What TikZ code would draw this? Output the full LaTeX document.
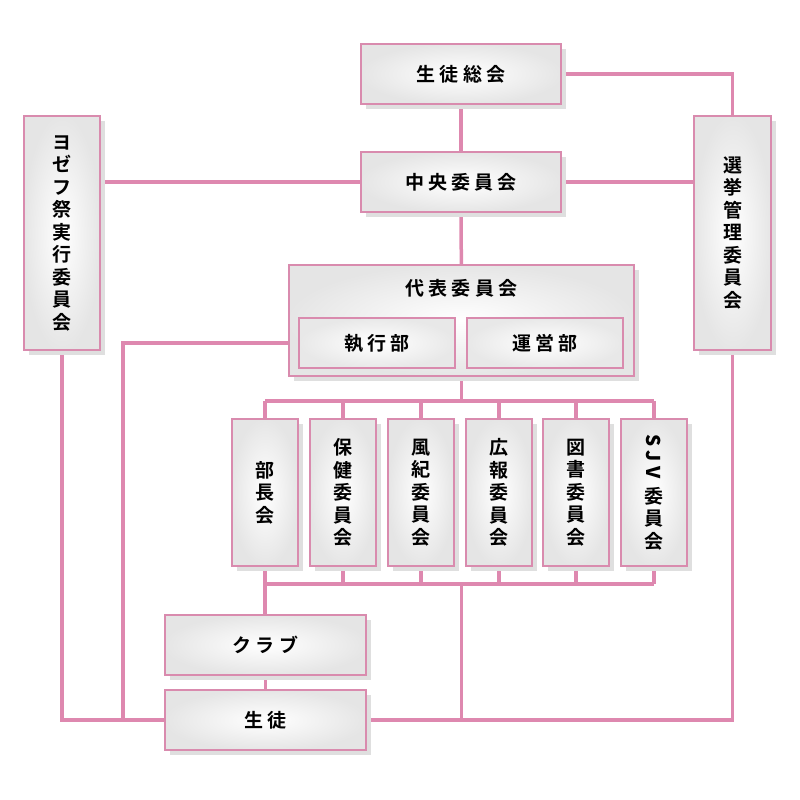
\documentclass[tikz,border=0pt]{standalone}
\usepackage{fontspec}
\setmainfont{Noto Sans CJK JP}[BoldFont={Noto Sans CJK JP Bold}]
\newfontfamily\jptrack{Noto Sans CJK JP Bold}[LetterSpace=22]
\usetikzlibrary{shadows,backgrounds}
\definecolor{pinkline}{HTML}{DE88AF}
\definecolor{pinkedge}{HTML}{D98BAE}
\begin{document}
\begin{tikzpicture}[x=1pt, y=-1pt]
  \useasboundingbox (0,0) rectangle (800,800);

  \tikzstyle{box}=[draw=pinkedge, line width=1.5pt, shading=radial, inner color=white, outer color=gray!20,
    drop shadow={shadow xshift=5pt, shadow yshift=-5pt, fill=gray!25, opacity=1}, inner sep=0pt]
  \tikzstyle{inbox}=[draw=pinkedge, line width=1.5pt, shading=radial, inner color=white, outer color=gray!18, inner sep=0pt]
  \tikzstyle{wide}=[minimum width=200pt, minimum height=60pt, font=\fontsize{19}{22}\jptrack]
  \tikzstyle{tall}=[minimum width=66pt, minimum height=147pt, align=center, font=\fontsize{19}{22.5}\bfseries]
  \tikzstyle{link}=[draw=pinkline, line width=3.5pt]

  \node[box, wide] (sokai) at (461,74) {生徒総会};
  \node[box, wide] (chuo) at (461,182) {中央委員会};
  \node[box, minimum width=345pt, minimum height=111pt,
    label={[anchor=north, yshift=-12pt, font=\fontsize{19}{22}\jptrack]90:代表委員会}] (daihyo) at (461.5,320.5) {};
  \node[inbox, minimum width=156pt, minimum height=50pt, font=\fontsize{19}{22}\jptrack] (shikko) at (377,343) {執行部};
  \node[inbox, minimum width=156pt, minimum height=50pt, font=\fontsize{19}{22}\jptrack] (unei) at (545,343) {運営部};

  \node[box, tall, minimum width=76pt, minimum height=234pt] (yozefu) at (62,233) {ヨ\\ゼ\\フ\\祭\\実\\行\\委\\員\\会};
  \node[box, tall, minimum width=77pt, minimum height=234pt] (senkyo) at (732.5,233) {選\\挙\\管\\理\\委\\員\\会};

  \node[box, tall] (bucho) at (265,492.5) {部\\長\\会};
  \node[box, tall] (hoken) at (343,492.5) {保\\健\\委\\員\\会};
  \node[box, tall] (fuki) at (421,492.5) {風\\紀\\委\\員\\会};
  \node[box, tall] (koho) at (499,492.5) {広\\報\\委\\員\\会};
  \node[box, tall] (tosho) at (576,492.5) {図\\書\\委\\員\\会};
  \node[box, tall] (sjv) at (654,492.5) {\rotatebox{-90}{\jptrack SJV}\\[8pt]委\\員\\会};

  \node[box, wide, minimum width=201pt] (club) at (265.5,645) {クラブ};
  \node[box, wide, minimum width=201pt] (seito) at (265.5,720) {生徒};

  \coordinate (topbus) at (0,401);
  \coordinate (botbus) at (0,584);
  \coordinate (left) at (123,0);

  \begin{scope}[on background layer]
    \path[link] (sokai) -- (chuo);
    \path[link] (chuo) -- (daihyo);
    \path[link] (sokai.east) -| (senkyo.north);
    \path[link] (chuo.west) -- (chuo.west -| yozefu.east);
    \path[link] (chuo.east) -- (chuo.east -| senkyo.west);
    \path[link] (daihyo.south) -- (daihyo.south |- topbus);
    \path[link] (bucho.north |- topbus) -- (sjv.north |- topbus);
    \path[link] (bucho.south |- botbus) -- (sjv.south |- botbus);
    \foreach \n in {bucho, hoken, fuki, koho, tosho, sjv} {
      \path[link] (\n.north) -- (\n.north |- topbus);
      \path[link] (\n.south) -- (\n.south |- botbus);
    }
    \path[link] (bucho.south |- botbus) -- (club.north -| bucho.south);
    \path[link] (club) -- (seito);
    \path[link] (yozefu.south) |- (seito.west);
    \path[link] (seito.east) -| (senkyo.south);
    \path[link] (daihyo.west |- shikko) -- (left |- shikko) -- (left |- seito);
    \path[link] (daihyo.south |- botbus) -- (daihyo.south |- seito);
  \end{scope}
\end{tikzpicture}
\end{document}
